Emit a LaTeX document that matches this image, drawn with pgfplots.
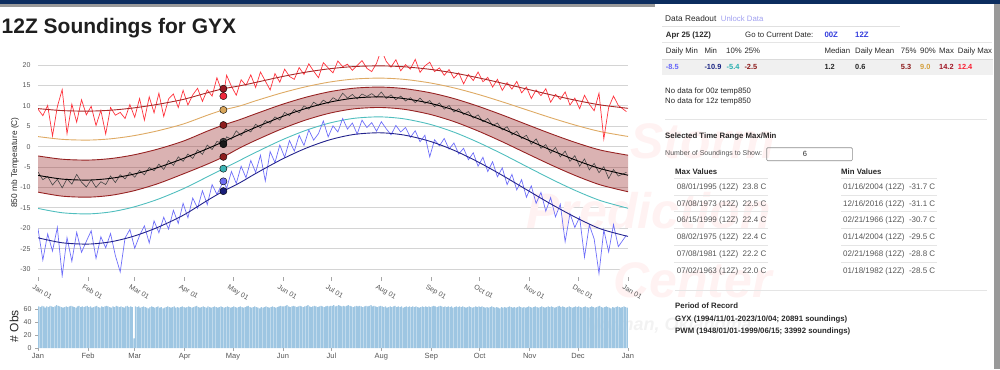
\documentclass[border=0pt]{standalone}
\usepackage{fontspec}
\setmainfont{Liberation Sans}
\usepackage{pgfplots}
\usepackage{pgfplotstable}
\pgfplotsset{compat=1.18}
\usepgfplotslibrary{fillbetween}

\definecolor{navy}{RGB}{12,45,95}
\definecolor{dmaxc}{RGB}{255,50,60}
\definecolor{maxc}{RGB}{170,40,40}
\definecolor{p90c}{RGB}{222,170,100}
\definecolor{bandc}{RGB}{150,35,35}
\definecolor{meanc}{RGB}{70,70,70}
\definecolor{p10c}{RGB}{80,190,190}
\definecolor{minc}{RGB}{35,35,140}
\definecolor{dminc}{RGB}{110,110,250}
\definecolor{obsc}{RGB}{158,198,226}
\definecolor{txt}{RGB}{40,40,40}
\definecolor{lbl}{RGB}{85,85,85}
\definecolor{linkc}{RGB}{50,60,220}

\pgfplotstableread{
d mx p90 p75 med p25 p10 mn
0 9.33 2.47 -2.28 -7.04 -11.15 -15.14 -22.34
15 8.84 1.79 -3.08 -7.95 -12.13 -16.20 -23.56
31 8.71 1.61 -3.29 -8.19 -12.38 -16.48 -23.88
45 8.93 1.92 -2.92 -7.77 -11.94 -16.00 -23.33
59 9.48 2.66 -2.05 -6.77 -10.86 -14.83 -21.99
74 10.35 3.86 -0.63 -5.16 -9.12 -12.95 -19.83
90 11.57 5.54 1.34 -2.92 -6.70 -10.34 -16.83
105 13.20 7.70 3.80 -0.50 -4.30 -7.40 -13.20
115 14.20 9.00 5.30 1.20 -2.50 -5.40 -10.90
125 14.90 9.95 6.60 3.00 -0.35 -3.40 -8.90
135 15.74 11.24 8.05 4.73 1.55 -1.41 -6.59
151 17.14 13.15 10.30 7.30 4.32 1.59 -3.15
166 18.25 14.67 12.09 9.34 6.52 3.97 -0.42
181 19.10 15.84 13.47 10.91 8.21 5.80 1.68
196 19.63 16.57 14.33 11.89 9.27 6.94 2.99
212 19.80 16.80 14.60 12.20 9.60 7.30 3.40
227 19.58 16.50 14.24 11.79 9.16 6.82 2.85
243 18.96 15.64 13.24 10.65 7.93 5.49 1.33
258 18.06 14.41 11.79 9.00 6.15 3.56 -0.89
273 16.89 12.82 9.91 6.86 3.84 1.06 -3.75
288 15.56 10.99 7.76 4.41 1.20 -1.79 -7.03
304 14.04 8.91 5.31 1.61 -1.82 -5.05 -10.77
319 12.63 6.98 3.04 -0.98 -4.61 -8.07 -14.24
334 11.33 5.20 0.94 -3.37 -7.19 -10.86 -17.43
349 10.22 3.68 -0.85 -5.41 -9.39 -13.24 -20.16
366 9.40 2.50 -2.10 -7.00 -11.05 -15.10 -22.00
}\clim

\pgfplotstableread{
d hi mean lo
0 9.2 -6.2 -20.1
3 7.6 -8.1 -27.8
6 10.1 -7.3 -21.4
9 2.6 -9.4 -25.6
12 9.8 -8.0 -19.8
15 14.0 -10.1 -31.7
18 3.2 -7.9 -22.3
21 10.4 -9.2 -28.1
24 6.0 -6.8 -21.0
27 11.5 -8.7 -25.9
30 7.8 -9.9 -23.2
33 9.9 -8.1 -20.6
36 5.2 -10.0 -27.4
39 8.9 -8.6 -22.1
42 3.1 -9.3 -24.8
45 9.6 -7.2 -21.3
48 7.7 -8.8 -26.7
51 8.4 -6.9 -30.7
54 6.9 -7.9 -22.4
57 10.3 -6.3 -20.3
60 7.2 -7.5 -24.9
63 11.8 -5.8 -21.8
66 6.5 -6.9 -19.4
69 12.2 -5.1 -23.6
72 8.3 -5.9 -18.2
75 13.1 -4.3 -21.1
78 7.4 -5.6 -17.3
81 11.7 -3.4 -20.2
84 12.9 -4.6 -15.6
87 9.6 -2.5 -18.8
90 13.8 -3.6 -13.9
93 10.2 -1.8 -17.4
96 12.7 -2.9 -12.6
99 14.3 -0.8 -15.1
102 11.1 -1.9 -10.8
105 13.9 0.4 -14.2
108 12.4 -0.7 -9.3
111 16.9 1.3 -11.7
115 12.4 0.6 -8.5
117 17.5 2.4 -10.2
120 14.8 1.8 -6.1
123 12.6 3.9 -9.0
126 16.4 2.7 -4.8
129 15.0 4.3 -7.6
132 17.6 3.6 -3.4
135 14.5 5.5 -6.3
138 18.3 4.6 -2.1
141 16.1 6.4 -8.4
144 13.9 5.7 -1.2
147 17.9 7.3 -3.9
150 15.8 6.5 0.4
153 19.0 8.4 -2.6
156 17.2 7.6 1.5
159 16.5 9.1 -1.1
162 19.4 8.3 2.8
165 17.7 10.0 0.3
168 20.3 9.2 4.1
171 18.5 10.9 1.6
174 16.9 10.1 3.2
177 20.6 11.4 6.3
180 19.3 10.6 2.4
183 18.1 12.0 5.1
186 21.0 11.3 3.6
189 19.6 13.1 6.9
192 20.2 11.9 4.3
195 18.7 12.8 5.8
198 19.9 11.7 3.1
201 21.1 12.9 6.5
204 19.2 12.3 4.7
207 18.4 13.0 5.9
210 20.4 12.1 3.8
213 23.8 13.4 6.1
216 20.9 11.8 4.4
219 19.5 12.7 2.9
222 21.3 11.5 5.2
225 18.6 12.4 3.6
228 20.1 11.2 4.7
231 19.0 12.0 2.3
234 21.4 10.8 3.9
237 18.2 11.9 1.2
240 19.8 10.6 2.8
243 20.7 11.3 -2.5
246 18.4 9.8 1.7
249 19.3 10.7 0.2
252 17.5 9.2 2.0
255 18.9 10.1 -0.6
258 16.8 8.5 0.9
261 18.1 9.3 -1.8
264 15.4 7.9 -0.4
267 17.7 8.6 -3.2
270 16.2 7.0 -1.5
273 18.3 7.8 -4.8
276 15.9 6.1 -2.6
279 17.0 6.9 -6.1
282 14.6 5.2 -3.7
285 16.5 5.8 -7.4
288 13.8 4.1 -5.2
291 15.7 4.9 -9.3
294 14.1 2.9 -6.8
297 16.0 3.8 -10.6
300 13.2 2.0 -8.1
303 14.6 2.8 -12.4
306 11.8 0.6 -9.6
309 13.9 1.9 -13.9
312 12.5 -0.4 -11.2
315 14.2 0.5 -15.8
318 10.9 -1.6 -12.5
321 12.8 -0.2 -17.2
324 11.6 -2.5 -14.1
327 13.4 -1.1 -23.3
330 10.2 -3.6 -16.4
333 11.9 -2.2 -19.8
336 9.3 -4.8 -17.3
339 12.6 -3.0 -27.1
342 10.4 -5.7 -19.2
345 8.8 -4.1 -22.6
348 13.1 -6.4 -31.1
351 1.9 -4.9 -20.4
354 9.6 -7.8 -25.8
357 12.4 -5.6 -19.1
360 10.1 -7.2 -24.5
365 8.6 -6.3 -21.7
}\daily

\begin{document}
\begin{tikzpicture}
\begin{scope}[x=1pt,y=-1pt]
\path[use as bounding box] (0,0) rectangle (1000,369);
% watermark
\node[anchor=base west, font=\fontsize{50}{50}\selectfont\bfseries\itshape, text=red!5] at (627,158) {Storm};
\node[anchor=base west, font=\fontsize{50}{50}\selectfont\bfseries\itshape, text=red!5] at (523,228) {Prediction};
\node[anchor=base west, font=\fontsize{50}{50}\selectfont\bfseries\itshape, text=red!5] at (610,297) {Center};
\node[anchor=base west, font=\fontsize{18}{18}\selectfont\bfseries\itshape, text=black!5] at (583,330) {Norman, Oklahoma};
% header bars
\fill[navy] (0,0) rectangle (1000,4);
\fill[black!40] (0,4) rectangle (655,7);
\fill[black!40] (994,4) rectangle (1000,369);
% title
\node[anchor=base west, inner sep=0pt, font=\fontsize{21}{24}\selectfont\bfseries, text=black!88] at (1.5,33.3) {12Z Soundings for GYX};
% axis labels
\node[rotate=90, font=\fontsize{8.3}{9}\selectfont, text=txt] at (15,162.5) {850 mb Temperature (C)};
\node[rotate=90, font=\fontsize{12}{13}\selectfont, text=txt] at (14,326) {\# Obs};
\end{scope}

% ---------------- main axis ----------------
\begin{axis}[
  at={(38pt,-277.2pt)}, anchor=south west,
  scale only axis, width=590pt, height=220.3pt,
  xmin=0, xmax=366, ymin=-32, ymax=22,
  axis line style={draw=none},
  ytick={-30,-25,...,20},
  ymajorgrids, grid style={draw=black!17, line width=0.9pt},
  tick pos=left, tick align=outside,
  ytick style={draw=none},
  xtick={0,31,60,91,121,152,182,213,244,274,305,335,366},
  xticklabels={Jan 01,Feb 01,Mar 01,Apr 01,May 01,Jun 01,Jul 01,Aug 01,Sep 01,Oct 01,Nov 01,Dec 01,Jan 01},
  major tick length=4pt,
  xtick style={draw=black!35, line width=0.6pt},
  xticklabel style={rotate=-30, anchor=north west, xshift=-5pt, yshift=-1pt, font=\fontsize{7}{8}\selectfont, text=lbl},
  yticklabel style={font=\fontsize{7}{8}\selectfont, text=lbl},
  /pgf/number format/assume math mode=true,
]
\addplot[name path=up, draw=none, smooth] table[x=d,y=p75]{\clim};
\addplot[name path=lo, draw=none, smooth] table[x=d,y=p25]{\clim};
\addplot[fill=bandc, fill opacity=0.35, draw=none] fill between[of=up and lo];
\addplot[bandc, line width=0.9pt, smooth] table[x=d,y=p75]{\clim};
\addplot[bandc, line width=0.9pt, smooth] table[x=d,y=p25]{\clim};
\addplot[p90c, line width=0.9pt, smooth] table[x=d,y=p90]{\clim};
\addplot[p10c, line width=0.9pt, smooth] table[x=d,y=p10]{\clim};
\addplot[dmaxc, line width=0.7pt] table[x=d,y=hi]{\daily};
\addplot[dminc, line width=0.7pt] table[x=d,y=lo]{\daily};
\addplot[meanc, line width=0.6pt] table[x=d,y=mean]{\daily};
\addplot[maxc, line width=0.9pt, smooth] table[x=d,y=mx]{\clim};
\addplot[black, line width=0.9pt, smooth] table[x=d,y=med]{\clim};
\addplot[minc, line width=0.9pt, smooth] table[x=d,y=mn]{\clim};
% readout dots at Apr 25
\addplot[only marks, mark=*, mark size=3.6pt, draw=none, fill={rgb,255:red,240;green,40;blue,60}] coordinates {(115,12.4)};
\addplot[only marks, mark=*, mark size=3.6pt, draw=none, fill={rgb,255:red,150;green,25;blue,35}] coordinates {(115,14.2)};
\addplot[only marks, mark=*, mark size=3.6pt, draw=none, fill={rgb,255:red,215;green,165;blue,90}] coordinates {(115,9.0)};
\addplot[only marks, mark=*, mark size=3.6pt, draw=none, fill={rgb,255:red,140;green,30;blue,30}] coordinates {(115,5.3)};
\addplot[only marks, mark=*, mark size=3.6pt, draw=none, fill={rgb,255:red,60;green,60;blue,60}] coordinates {(115,1.2)};
\addplot[only marks, mark=*, mark size=3.6pt, draw=none, fill={rgb,255:red,25;green,25;blue,25}] coordinates {(115,0.6)};
\addplot[only marks, mark=*, mark size=3.6pt, draw=none, fill={rgb,255:red,140;green,30;blue,30}] coordinates {(115,-2.5)};
\addplot[only marks, mark=*, mark size=3.6pt, draw=none, fill={rgb,255:red,60;green,180;blue,180}] coordinates {(115,-5.4)};
\addplot[only marks, mark=*, mark size=3.6pt, draw=none, fill={rgb,255:red,110;green,110;blue,240}] coordinates {(115,-8.5)};
\addplot[only marks, mark=*, mark size=3.6pt, draw=none, fill={rgb,255:red,25;green,30;blue,120}] coordinates {(115,-10.9)};
\end{axis}

% ---------------- histogram ----------------
\begin{axis}[
  at={(38pt,-348pt)}, anchor=south west,
  scale only axis, width=590pt, height=45.5pt,
  xmin=0, xmax=366, ymin=0, ymax=70,
  axis line style={draw=none},
  ytick={0,20,40,60},
  xtick={0,31,60,91,121,152,182,213,244,274,305,335,366},
  xticklabels={Jan,Feb,Mar,Apr,May,Jun,Jul,Aug,Sep,Oct,Nov,Dec,Jan},
  tick pos=left, tick align=outside, major tick length=3pt,
  tick style={draw=black!35, line width=0.6pt},
  xticklabel style={font=\fontsize{7.5}{8}\selectfont, text=lbl, yshift=1pt},
  yticklabel style={font=\fontsize{7}{8}\selectfont, text=lbl},
  /pgf/number format/assume math mode=true,
]
\addplot[ybar, bar width=1.25pt, bar shift=0pt, fill=obsc, draw=none]
 table[header=false, x expr=\coordindex+0.5, y index=0, row sep=\\] {
64\\63\\65\\64\\62\\64\\63\\65\\64\\63\\64\\66\\65\\64\\63\\62\\63\\64\\63\\64\\65\\64\\63\\62\\64\\65\\63\\64\\63\\64\\65\\
63\\64\\62\\63\\64\\65\\63\\62\\64\\63\\64\\65\\64\\63\\62\\64\\63\\65\\64\\63\\64\\63\\62\\64\\65\\63\\64\\63\\15\\
64\\63\\64\\62\\63\\64\\63\\62\\61\\63\\64\\63\\62\\63\\64\\62\\63\\61\\62\\63\\64\\63\\62\\63\\64\\62\\63\\62\\63\\64\\63\\
62\\63\\64\\63\\62\\63\\64\\65\\63\\62\\63\\64\\63\\62\\64\\63\\62\\63\\64\\63\\62\\63\\64\\63\\62\\63\\64\\63\\62\\63\\
64\\63\\62\\63\\64\\63\\62\\63\\64\\65\\63\\62\\63\\64\\63\\62\\61\\63\\62\\63\\64\\63\\62\\63\\64\\63\\62\\63\\64\\65\\64\\
64\\65\\66\\64\\63\\64\\65\\64\\63\\64\\65\\64\\63\\64\\65\\66\\64\\63\\64\\65\\64\\63\\64\\65\\64\\63\\64\\65\\64\\65\\
65\\66\\64\\65\\66\\65\\64\\65\\64\\65\\66\\65\\64\\63\\64\\65\\64\\65\\64\\63\\64\\65\\64\\65\\66\\64\\65\\64\\63\\64\\65\\
64\\63\\64\\62\\63\\64\\63\\64\\65\\63\\64\\63\\64\\62\\63\\64\\63\\64\\63\\64\\63\\64\\63\\62\\63\\64\\63\\64\\63\\64\\63\\
64\\65\\64\\63\\64\\65\\64\\63\\64\\63\\64\\63\\64\\62\\63\\64\\63\\64\\63\\64\\63\\62\\63\\64\\63\\62\\63\\64\\63\\64\\
63\\64\\63\\62\\63\\62\\63\\64\\63\\62\\63\\62\\61\\63\\62\\63\\62\\63\\64\\63\\62\\63\\62\\63\\64\\63\\62\\63\\62\\63\\64\\
63\\62\\63\\64\\63\\62\\63\\64\\63\\62\\63\\64\\63\\64\\63\\62\\63\\64\\65\\63\\64\\63\\62\\63\\64\\63\\62\\63\\64\\63\\
64\\63\\62\\63\\64\\63\\62\\63\\64\\63\\62\\63\\64\\65\\63\\62\\63\\64\\63\\62\\61\\63\\62\\63\\64\\63\\62\\63\\64\\63\\62\\
};
\end{axis}

% ---------------- right panel ----------------
\begin{scope}[x=1pt,y=-1pt]
\tikzset{t/.style={anchor=base west, inner sep=0pt, font=\fontsize{7.8}{9}\selectfont, text=txt},
         tb/.style={t, font=\fontsize{7.8}{9}\selectfont\bfseries},
         v/.style={anchor=base west, inner sep=0pt, font=\fontsize{7.4}{9}\selectfont\bfseries},
         g/.style={anchor=base west, inner sep=0pt, font=\fontsize{8}{9}\selectfont, text=lbl}}
\node[t, font=\fontsize{8.3}{9}\selectfont] at (665,22) {Data Readout};
\node[t, text={rgb,255:red,160;green,160;blue,240}] at (720.7,22) {Unlock Data};
\draw[black!12, line width=0.6pt] (662,26) -- (900,26);
\node[tb] at (665.7,37.2) {Apr 25 (12Z)};
\node[t] at (745,37.2) {Go to Current Date:};
\node[tb, text=linkc] at (824.3,37.2) {00Z};
\node[tb, text=linkc] at (855,37.2) {12Z};
\draw[black!10, line width=0.6pt] (662,42) -- (992,42);
\node[t] at (665.7,54) {Daily Min};
\node[t] at (704.3,54) {Min};
\node[t] at (726,54) {10\%};
\node[t] at (744.3,54) {25\%};
\node[t] at (824.3,54) {Median};
\node[t] at (855,54) {Daily Mean};
\node[t] at (900.7,54) {75\%};
\node[t] at (920,54) {90\%};
\node[t] at (939,54) {Max};
\node[t] at (957.7,54) {Daily Max};
\fill[black!6] (662,59.5) rectangle (993,74.5);
\draw[black!14, line width=0.6pt] (662,59.5) -- (993,59.5);
\node[v, text={rgb,255:red,100;green,100;blue,250}] at (665.7,69.6) {-8.5};
\node[v, text={rgb,255:red,25;green,35;blue,130}] at (704.3,69.6) {-10.9};
\node[v, text={rgb,255:red,40;green,175;blue,175}] at (726.5,69.6) {-5.4};
\node[v, text={rgb,255:red,140;green,25;blue,25}] at (744.3,69.6) {-2.5};
\node[v, text=txt] at (824.3,69.6) {1.2};
\node[v, text=txt] at (855,69.6) {0.6};
\node[v, text={rgb,255:red,140;green,25;blue,25}] at (900.7,69.6) {5.3};
\node[v, text={rgb,255:red,212;green,160;blue,60}] at (920,69.6) {9.0};
\node[v, text={rgb,255:red,160;green,20;blue,35}] at (939,69.6) {14.2};
\node[v, text={rgb,255:red,250;green,30;blue,50}] at (957.7,69.6) {12.4};
\node[t] at (665,93.6) {No data for 00z temp850};
\node[t] at (665,103.6) {No data for 12z temp850};
\draw[black!10, line width=0.7pt] (665,119) -- (987,119);
\node[tb] at (665,138.6) {Selected Time Range Max/Min};
\node[anchor=base west, inner sep=0pt, font=\fontsize{7}{8}\selectfont, text=lbl] at (665,155.2) {Number of Soundings to Show:};
\draw[black!45, line width=0.6pt, rounded corners=1pt] (766.7,147.7) rectangle (852.3,160.7);
\node[font=\fontsize{7.5}{8}\selectfont, text=txt] at (805,154.2) {6};
\node[tb] at (675,174.6) {Max Values};
\node[tb] at (841,174.6) {Min Values};
\foreach \yy in {178.3,195,211.7,228.3,245.7,262.3}{
  \draw[black!10, line width=0.6pt] (674,\yy) -- (768,\yy);
  \draw[black!10, line width=0.6pt] (841,\yy) -- (937,\yy);
}
\node[g] at (676.7,189.6) {08/01/1995 (12Z)\ \ 23.8 C};
\node[g] at (676.7,206.2) {07/08/1973 (12Z)\ \ 22.5 C};
\node[g] at (676.7,222.9) {06/15/1999 (12Z)\ \ 22.4 C};
\node[g] at (676.7,239.6) {08/02/1975 (12Z)\ \ 22.4 C};
\node[g] at (676.7,256.9) {07/08/1981 (12Z)\ \ 22.2 C};
\node[g] at (676.7,273.9) {07/02/1963 (12Z)\ \ 22.0 C};
\node[g] at (843,189.6) {01/16/2004 (12Z)\ \ -31.7 C};
\node[g] at (843,206.2) {12/16/2016 (12Z)\ \ -31.1 C};
\node[g] at (843,222.9) {02/21/1966 (12Z)\ \ -30.7 C};
\node[g] at (843,239.6) {01/14/2004 (12Z)\ \ -29.5 C};
\node[g] at (843,256.9) {02/21/1968 (12Z)\ \ -28.8 C};
\node[g] at (843,273.9) {01/18/1982 (12Z)\ \ -28.5 C};
\draw[black!10, line width=0.7pt] (675,290) -- (987,290);
\node[tb] at (675,308.9) {Period of Record};
\node[tb] at (675,321.9) {GYX (1994/11/01-2023/10/04; 20891 soundings)};
\node[tb] at (675,333.9) {PWM (1948/01/01-1999/06/15; 33992 soundings)};
\end{scope}
\end{tikzpicture}
\end{document}
